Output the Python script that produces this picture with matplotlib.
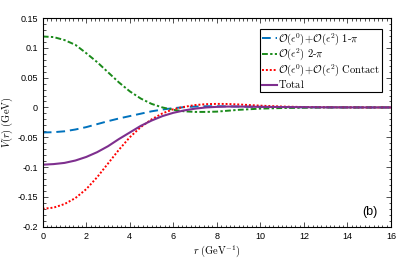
import matplotlib
matplotlib.use('Agg')
import matplotlib.pyplot as plt
from matplotlib.ticker import MultipleLocator, FuncFormatter

plt.rcParams['mathtext.fontset'] = 'cm'
plt.rcParams['axes.unicode_minus'] = False
plt.rcParams['font.family'] = ['Liberation Sans', 'DejaVu Sans']

# values
r = [0, 0.5, 1, 1.5, 2, 2.5, 3, 3.5, 4, 4.5, 5, 5.5, 6, 6.5, 7, 7.5, 8,
     8.5, 9, 9.5, 10, 11, 12, 13, 14, 15, 16]
v_1pi = [-0.042, -0.0415, -0.040, -0.037, -0.033, -0.028, -0.023, -0.0185,
         -0.0145, -0.0105, -0.0065, -0.0035, -0.0012, 0.0005, 0.0015, 0.002,
         0.002, 0.0018, 0.0015, 0.0012, 0.001, 0.0006, 0.0003, 0.0001, 0, 0, 0]
v_2pi = [0.119, 0.118, 0.113, 0.105, 0.091, 0.076, 0.059, 0.042, 0.027,
         0.015, 0.006, 0.0, -0.004, -0.0065, -0.0075, -0.0075, -0.007,
         -0.0055, -0.004, -0.003, -0.002, -0.001, -0.0005, 0, 0, 0, 0]
v_contact = [-0.170, -0.168, -0.162, -0.152, -0.137, -0.117, -0.094, -0.071,
             -0.050, -0.033, -0.020, -0.010, -0.003, 0.001, 0.004, 0.0055,
             0.006, 0.0058, 0.005, 0.004, 0.003, 0.0015, 0.0007, 0.0003,
             0.0001, 0, 0]
v_total = [-0.096, -0.095, -0.093, -0.089, -0.083, -0.075, -0.065, -0.053,
           -0.042, -0.031, -0.022, -0.0145, -0.009, -0.005, -0.002, 0.0,
           0.001, 0.0015, 0.0015, 0.0013, 0.001, 0.0007, 0.0004, 0.0002,
           0.0001, 0, 0]

labels = [r'$\mathcal{O}(\epsilon^0)\!+\!\mathcal{O}(\epsilon^2)\ \mathrm{1}\text{-}\pi$',
          r'$\mathcal{O}(\epsilon^2)\ \mathrm{2}\text{-}\pi$',
          r'$\mathcal{O}(\epsilon^0)\!+\!\mathcal{O}(\epsilon^2)\ \mathrm{Contact}$',
          r'$\mathrm{Total}$']

fig = plt.figure(figsize=(4.15, 2.59), dpi=100)
ax = fig.add_axes([0.103, 0.1247, 0.839, 0.8058])

ax.plot(r, v_1pi, color='#0072BD', lw=1.4, ls=(0, (4.5, 2.5)), label=labels[0])
ax.plot(r, v_2pi, color='#1a8a1a', lw=1.4, ls=(0, (3, 1.2, 1.2, 1.2)), label=labels[1])
ax.plot(r, v_contact, color='#ff0000', lw=1.4, ls=(0, (1, 1)), label=labels[2])
ax.plot(r, v_total, color='#7E2F8E', lw=1.5, label=labels[3])

ax.set_xlim(0, 16)
ax.set_ylim(-0.2, 0.15)
ax.xaxis.set_major_locator(MultipleLocator(2))
ax.xaxis.set_minor_locator(MultipleLocator(0.2))
ax.yaxis.set_major_locator(MultipleLocator(0.05))
ax.yaxis.set_minor_locator(MultipleLocator(0.01))
ax.yaxis.set_major_formatter(FuncFormatter(lambda v, p: '%g' % round(v, 4)))
ax.tick_params(which='both', direction='in', top=True, right=True, labelsize=6.5,
               width=0.6, color='#333333')
ax.tick_params(which='major', length=3.5)
ax.tick_params(which='minor', length=1.8)
for s in ax.spines.values():
    s.set_linewidth(0.8)

ax.set_xlabel(r'$r\ (\mathrm{GeV}^{-1})$', fontsize=7.5, labelpad=2)
ax.set_ylabel(r'$V(r)\ (\mathrm{GeV})$', fontsize=7.5, labelpad=2)

ax.text(15.05, -0.175, '(b)', fontsize=9, ha='center', va='center')

leg = ax.legend(loc='upper right', bbox_to_anchor=(0.974, 0.947), fontsize=7.6,
                frameon=True, fancybox=False, edgecolor='black', framealpha=1,
                borderpad=0.15, labelspacing=0.0, handlelength=1.4,
                handletextpad=0.15, borderaxespad=0)
leg.get_frame().set_linewidth(0.8)

fig.savefig('out.png', dpi=100)
